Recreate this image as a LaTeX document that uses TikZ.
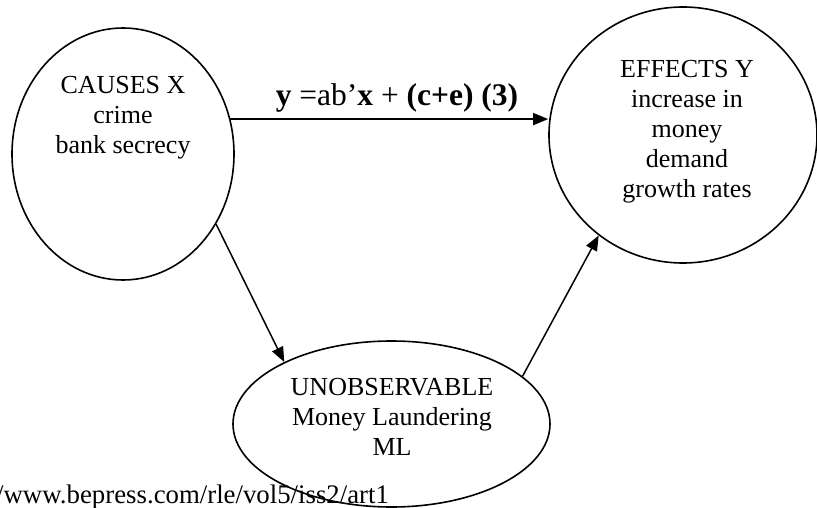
\documentclass[tikz,border=0pt]{standalone}
\usepackage{fontspec}
\setmainfont{Liberation Serif}
\usetikzlibrary{shapes.geometric,arrows.meta}
\begin{document}
\begin{tikzpicture}[x=1pt,y=-1pt,
  oval/.style={draw,ellipse,line width=1.6pt,inner sep=0pt},
  txt/.style={font=\fontsize{26}{30}\selectfont,align=center,inner sep=0pt},
  conn/.style={line width=1.5pt,-{Triangle[length=15pt,width=12pt]}}]
\clip (0,0) rectangle (817,508);
\useasboundingbox (0,0) rectangle (817,508);
\node[txt,font=\fontsize{26.8}{30}\selectfont,anchor=base west] (url) at (-4,503) {/www.bepress.com/rle/vol5/iss2/art1};
\node[oval,minimum width=222pt,minimum height=252pt] (L) at (123,154) {};
\node[oval,minimum width=268pt,minimum height=256pt] (R) at (683,135) {};
\node[oval,minimum width=317pt,minimum height=166pt] (M) at (391.5,424) {};
\node[txt,anchor=north] (Lt) at (123,76) {CAUSES X\\crime\\bank secrecy};
\node[txt,anchor=north] (Rt) at (687,60) {EFFECTS Y\\increase in\\money\\demand\\growth rates};
\node[txt,anchor=north] (Mt) at (392,378) {UNOBSERVABLE\\Money Laundering\\ML};
\draw[conn] (L.18) -- (L.18 -| R.west);
\node[txt,font=\fontsize{31.5}{34}\selectfont,anchor=base] (eq) at (397,106) {\textbf{y} =ab’\textbf{x} + \textbf{(c+e) (3)}};
\draw[conn] (L.-37) -- (M.150.3);
\draw[conn] (M.20.4) -- (R.-130);
\end{tikzpicture}
\end{document}
